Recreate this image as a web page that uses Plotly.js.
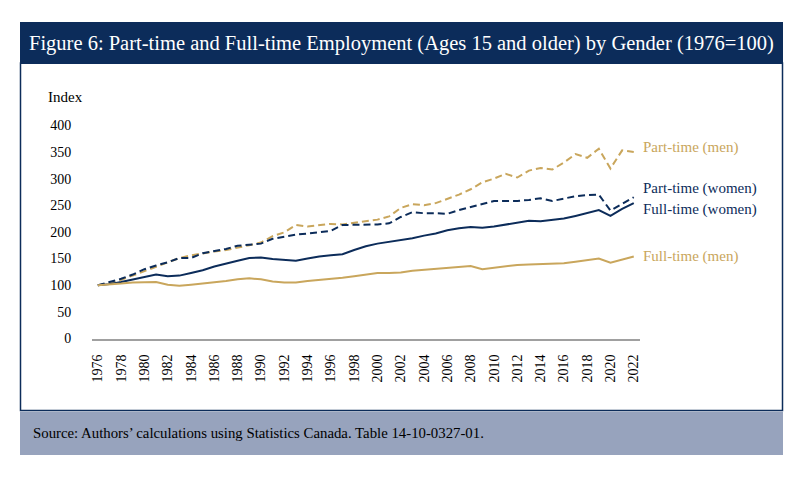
<!DOCTYPE html>
<html>
<head>
<meta charset="utf-8">
<script src="https://cdn.plot.ly/plotly-3.0.1.min.js"></script>
<style>
  html, body { margin: 0; padding: 0; background: #ffffff; }
  #chart { width: 800px; height: 485px; }
</style>
</head>
<body>
<div id="chart"></div>
<script>
const years = [];
for (let y = 1976; y <= 2022; y++) years.push(y);

const partTimeMen = [100,104,110,118,126,135,142,151,156,160,163,166,170,175,180,192,199,213,210,212,215,214,217,219,223,229,245,252,250,254,262,270,280,293,300,309,302,315,320,317,330,346,339,356,319,353,350];
const partTimeWomen = [100,106,112,120,130,137,143,151,151,160,164,168,174,176,178,187,191,195,197,199,202,213,213,213,214,216,228,237,235,235,234,241,247,253,258,258,258,260,263,258,263,267,269,270,240,253,265];
const fullTimeWomen = [100,102,106,111,116,120,117,118,123,128,135,141,146,151,152,149,147,146,150,154,156,158,166,173,178,181,184,188,193,197,203,207,209,208,210,214,218,221,220,223,225,230,236,241,230,243,254];
const fullTimeMen = [100,101,103,105,106,106,101,99,101,103,106,108,111,113,111,107,105,105,108,110,111,114,117,120,123,123,124,127,129,131,132,134,136,130,133,135,138,139,140,140,141,144,147,150,142,148,154];

const seriesNames = ["Part-time (men)", "Part-time (women)", "Full-time (women)", "Full-time (men)"];
const titleText = "Figure 6: Part-time and Full-time Employment (Ages 15 and older) by Gender (1976=100)";
const sourceText = "Source: Authors\u2019 calculations using Statistics Canada. Table 14-10-0327-01.";
const yTickVals = [0,50,100,150,200,250,300,350,400];

const NAVY = "#0c2c5a";
const GOLD = "#c9a65c";
const FONT = "Liberation Serif, Times New Roman, serif";
const DASH = "7px,4px";

const W = 800, H = 485;
const px = v => v / W;
const py = v => 1 - v / H;

const traces = [
  {x: years, y: partTimeMen, name: seriesNames[0], mode: "lines", line: {color: GOLD, width: 2, dash: DASH}},
  {x: years, y: partTimeWomen, name: seriesNames[1], mode: "lines", line: {color: NAVY, width: 2, dash: DASH}},
  {x: years, y: fullTimeWomen, name: seriesNames[2], mode: "lines", line: {color: NAVY, width: 2}},
  {x: years, y: fullTimeMen, name: seriesNames[3], mode: "lines", line: {color: GOLD, width: 2}}
];

const layout = {
  width: W, height: H,
  margin: {l: 0, r: 0, t: 0, b: 0},
  paper_bgcolor: "#ffffff",
  plot_bgcolor: "rgba(0,0,0,0)",
  showlegend: false,
  font: {family: FONT, color: "#000000", size: 14},
  xaxis: {
    domain: [px(92), px(639.6)],
    range: [1975.5, 2022.5],
    tickmode: "array",
    tickvals: years.filter(y => (y - 1976) % 2 === 0),
    ticktext: years.filter(y => (y - 1976) % 2 === 0).map(String),
    tickangle: -90,
    ticks: "outside", ticklen: 8, tickcolor: "rgba(0,0,0,0)",
    showgrid: false, zeroline: false,
    showline: true, linecolor: "#a0a0a0", linewidth: 2.5,
    tickfont: {family: FONT, size: 14, color: "#000000"},
    fixedrange: true
  },
  yaxis: {
    domain: [1 - 338.5 / H, 1 - 125.3 / H],
    range: [0, 400],
    tickmode: "array",
    tickvals: yTickVals,
    ticktext: yTickVals.map(String),
    ticks: "outside", ticklen: 17, tickcolor: "rgba(0,0,0,0)",
    showgrid: false, zeroline: false, showline: false,
    tickfont: {family: FONT, size: 14, color: "#000000"},
    fixedrange: true
  },
  shapes: [
    {type: "rect", xref: "paper", yref: "paper", x0: px(20.5), x1: px(782.5), y0: py(410.5), y1: py(63),
     line: {color: NAVY, width: 1.5}, fillcolor: "rgba(0,0,0,0)", layer: "below"},
    {type: "rect", xref: "paper", yref: "paper", x0: px(20), x1: px(783), y0: py(64), y1: py(22),
     line: {width: 0}, fillcolor: NAVY, layer: "below"},
    {type: "rect", xref: "paper", yref: "paper", x0: px(20), x1: px(783), y0: py(455), y1: py(411.5),
     line: {width: 0}, fillcolor: "#97a3bd", layer: "below"}
  ],
  annotations: [
    {xref: "paper", yref: "paper", x: px(401.5), y: py(43), xanchor: "center", yanchor: "middle",
     text: titleText, showarrow: false, font: {family: FONT, size: 20.5, color: "#ffffff"}},
    {xref: "paper", yref: "paper", x: px(46), y: py(97), xanchor: "left", yanchor: "middle",
     text: "Index", showarrow: false, font: {family: FONT, size: 15, color: "#000000"}},
    {xref: "paper", yref: "paper", x: px(31), y: py(433), xanchor: "left", yanchor: "middle",
     text: sourceText, showarrow: false, font: {family: FONT, size: 14.8, color: "#000000"}},
    {xref: "paper", yref: "paper", x: px(641), y: py(147.5), xanchor: "left", yanchor: "middle",
     text: seriesNames[0], showarrow: false, font: {family: FONT, size: 15, color: GOLD}},
    {xref: "paper", yref: "paper", x: px(641), y: py(189), xanchor: "left", yanchor: "middle",
     text: seriesNames[1], showarrow: false, font: {family: FONT, size: 15, color: NAVY}},
    {xref: "paper", yref: "paper", x: px(641), y: py(209.5), xanchor: "left", yanchor: "middle",
     text: seriesNames[2], showarrow: false, font: {family: FONT, size: 15, color: NAVY}},
    {xref: "paper", yref: "paper", x: px(641), y: py(256), xanchor: "left", yanchor: "middle",
     text: seriesNames[3], showarrow: false, font: {family: FONT, size: 15, color: GOLD}}
  ]
};

Plotly.newPlot("chart", traces, layout, {displayModeBar: false, staticPlot: true});
</script>
</body>
</html>
